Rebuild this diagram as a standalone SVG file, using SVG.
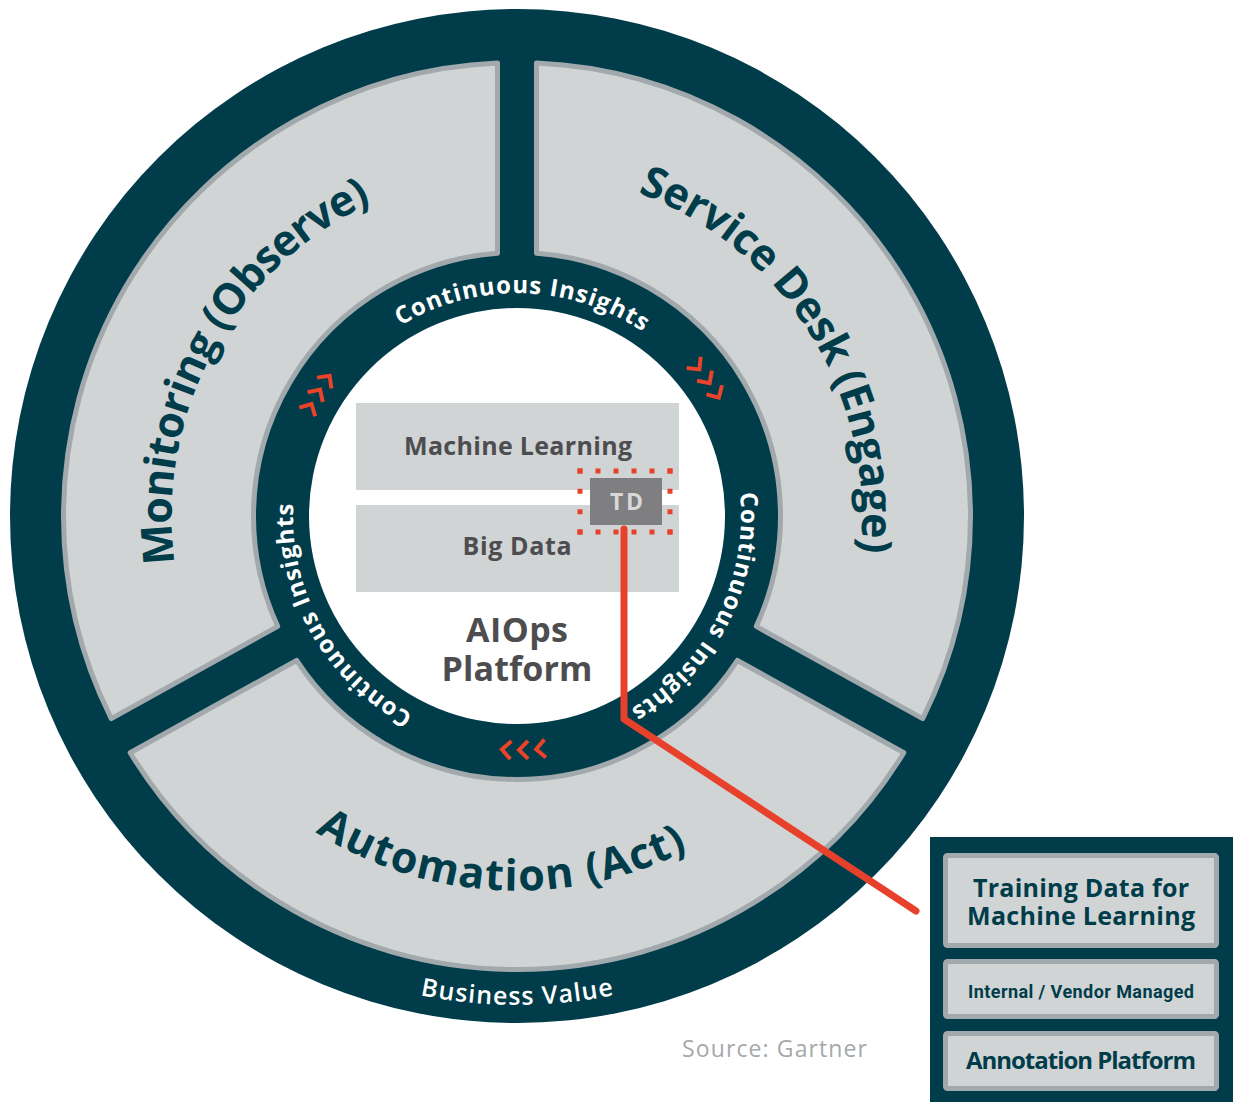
<svg xmlns="http://www.w3.org/2000/svg" width="1233" height="1102" viewBox="0 0 1233 1102">
  <style>
    .seg{fill:#d0d4d5;stroke:#a1a9ad;stroke-width:5;stroke-linejoin:round}
    .big{font-family:"Open Sans","Noto Sans",sans-serif;font-weight:700;font-size:43px;fill:#003c4a}
    .ring{font-family:"Open Sans","Noto Sans",sans-serif;font-weight:700;font-size:24px;fill:#ffffff}
    .core{font-family:"Open Sans","Noto Sans",sans-serif;font-weight:700;fill:#4d4d4f;text-anchor:middle}
    .card{fill:#d0d4d5;stroke:#a1a9ad;stroke-width:5}
    .cardtxt{font-family:"Open Sans","Noto Sans",sans-serif;font-weight:700;fill:#003c4a;text-anchor:middle}
    .dots{stroke:#e8412a;stroke-width:5;fill:none}
  </style>
  <defs>
    <!-- baselines for the curved labels -->
    <path id="pCiTop" d="M293.07,510.53 A224,224 0 0 1 740.93,521.47"/>
    <path id="pCiRight" d="M618,316.06 A224,224 0 0 1 416,715.94"/>
    <path id="pCiLeft" d="M627.64,710.77 A224,224 0 0 1 406.36,321.23"/>
    <path id="pMon" d="M351.37,819.78 A346,346 0 0 1 682.63,212.22"/>
    <path id="pDesk" d="M334.93,221.78 A346,346 0 0 1 699.07,810.22"/>
    <path id="pAuto" d="M141.42,498.29 A376,376 0 0 0 892.58,533.71"/>
    <path id="pValue" d="M28,516 A489,489 0 0 0 1006,516"/>
    <!-- flow chevron, apex at origin pointing +x -->
    <polyline id="chev" points="-9,-9 0,0 -9,9" fill="none" stroke="#ea4329" stroke-width="4" stroke-linejoin="miter"/>
  </defs>

  <rect width="1233" height="1102" fill="#ffffff"/>

  <!-- outer ring: business value -->
  <g id="business-value">
    <circle cx="517" cy="516" r="507" fill="#013c4a"/>
    <text class="ring" style="font-size:25px;font-weight:600"><textPath href="#pValue" startOffset="50%" text-anchor="middle" textLength="195">Business Value</textPath></text>
  </g>

  <!-- three practice segments -->
  <g id="monitoring">
    <path class="seg" d="M111.28,718.61 A453.5,453.5 0 0 1 497.5,62.92 L497.5,253.22 A263.5,263.5 0 0 0 277.72,626.35 Z"/>
    <text class="big"><textPath href="#pMon" startOffset="50%" text-anchor="middle" textLength="440">Monitoring (Observe)</textPath></text>
  </g>
  <g id="service-desk">
    <path class="seg" d="M536.5,62.92 A453.5,453.5 0 0 1 922.72,718.61 L756.28,626.35 A263.5,263.5 0 0 0 536.5,253.22 Z"/>
    <text class="big"><textPath href="#pDesk" startOffset="50%" text-anchor="middle" textLength="455">Service Desk (Engage)</textPath></text>
  </g>
  <g id="automation">
    <path class="seg" d="M903.82,752.72 A453.5,453.5 0 0 1 130.18,752.72 L296.62,660.46 A263.5,263.5 0 0 0 737.38,660.46 Z"/>
    <text class="big"><textPath href="#pAuto" startOffset="50%" text-anchor="middle" textLength="390">Automation (Act)</textPath></text>
  </g>

  <!-- inner ring: continuous insights -->
  <g id="continuous-insights">
    <text class="ring"><textPath href="#pCiTop" startOffset="50%" text-anchor="middle" textLength="256">Continuous Insights</textPath></text>
    <text class="ring"><textPath href="#pCiRight" startOffset="50%" text-anchor="middle" textLength="256">Continuous Insights</textPath></text>
    <text class="ring"><textPath href="#pCiLeft" startOffset="50%" text-anchor="middle" textLength="256">Continuous Insights</textPath></text>
    <use href="#chev" transform="rotate(-151.4 517 516) translate(751 516) rotate(90)"/>
    <use href="#chev" transform="rotate(-147.3 517 516) translate(751 516) rotate(90)"/>
    <use href="#chev" transform="rotate(-143.2 517 516) translate(751 516) rotate(90)"/>
    <use href="#chev" transform="rotate(-38.8 517 516) translate(751 516) rotate(90)"/>
    <use href="#chev" transform="rotate(-34.6 517 516) translate(751 516) rotate(90)"/>
    <use href="#chev" transform="rotate(-30.4 517 516) translate(751 516) rotate(90)"/>
    <use href="#chev" transform="rotate(85.3 517 516) translate(751 516) rotate(90)"/>
    <use href="#chev" transform="rotate(89.5 517 516) translate(751 516) rotate(90)"/>
    <use href="#chev" transform="rotate(93.7 517 516) translate(751 516) rotate(90)"/>
  </g>

  <!-- platform core -->
  <g id="aiops-platform">
    <circle cx="517" cy="516" r="208" fill="#ffffff"/>
    <text class="core" x="517" y="642" font-size="34" textLength="102">AIOps</text>
    <text class="core" x="517" y="681" font-size="34" textLength="151">Platform</text>
  </g>
  <g id="machine-learning">
    <rect x="356" y="403" width="323" height="87" fill="#d0d4d5"/>
    <text class="core" x="518" y="455" font-size="25" textLength="228">Machine Learning</text>
  </g>
  <g id="big-data">
    <rect x="356" y="505" width="323" height="87" fill="#d0d4d5"/>
    <text class="core" x="517" y="555" font-size="25" textLength="109">Big Data</text>
  </g>
  <g id="training-data">
    <line class="dots" x1="577.5" y1="471" x2="672.5" y2="471" stroke-dasharray="5 13"/>
    <line class="dots" x1="577.5" y1="532" x2="672.5" y2="532" stroke-dasharray="5 13"/>
    <line class="dots" x1="580" y1="468.5" x2="580" y2="534.5" stroke-dasharray="5 15.33"/>
    <line class="dots" x1="670" y1="468.5" x2="670" y2="534.5" stroke-dasharray="5 15.33"/>
    <rect x="590" y="478" width="72" height="47" fill="#7f7e80"/>
    <text class="core" x="626.5" y="510" font-size="23" style="fill:#d9d9d9" textLength="33">TD</text>
  </g>

  <!-- training data detail panel -->
  <g id="td-detail">
    <rect x="930" y="837" width="303" height="265" fill="#013c4a"/>
    <g id="td-title">
      <rect class="card" x="945.5" y="855.5" width="271" height="90" rx="2"/>
      <text class="cardtxt" x="1081" y="897" font-size="25" textLength="216">Training Data for</text>
      <text class="cardtxt" x="1081" y="925" font-size="25" textLength="228">Machine Learning</text>
    </g>
    <g id="td-managed">
      <rect class="card" x="945.5" y="961.5" width="271" height="55" rx="2"/>
      <text class="cardtxt" x="1081" y="998" font-size="18" style="font-family:Roboto,'Open Sans',sans-serif" textLength="226">Internal / Vendor Managed</text>
    </g>
    <g id="td-annotation">
      <rect class="card" x="945.5" y="1033.5" width="271" height="55" rx="2"/>
      <text class="cardtxt" x="1081" y="1069" font-size="24" textLength="230">Annotation Platform</text>
    </g>
  </g>

  <g id="source">
    <text x="682" y="1057" font-family="'Open Sans','Noto Sans',sans-serif" font-size="23" fill="#a5a9ab" textLength="185">Source: Gartner</text>
  </g>

  <!-- connector from TD to the detail panel -->
  <g id="connectors">
    <polyline points="624,529 624,719 916,911" fill="none" stroke="#e8412b" stroke-width="7" stroke-linejoin="round" stroke-linecap="round"/>
  </g>
</svg>
